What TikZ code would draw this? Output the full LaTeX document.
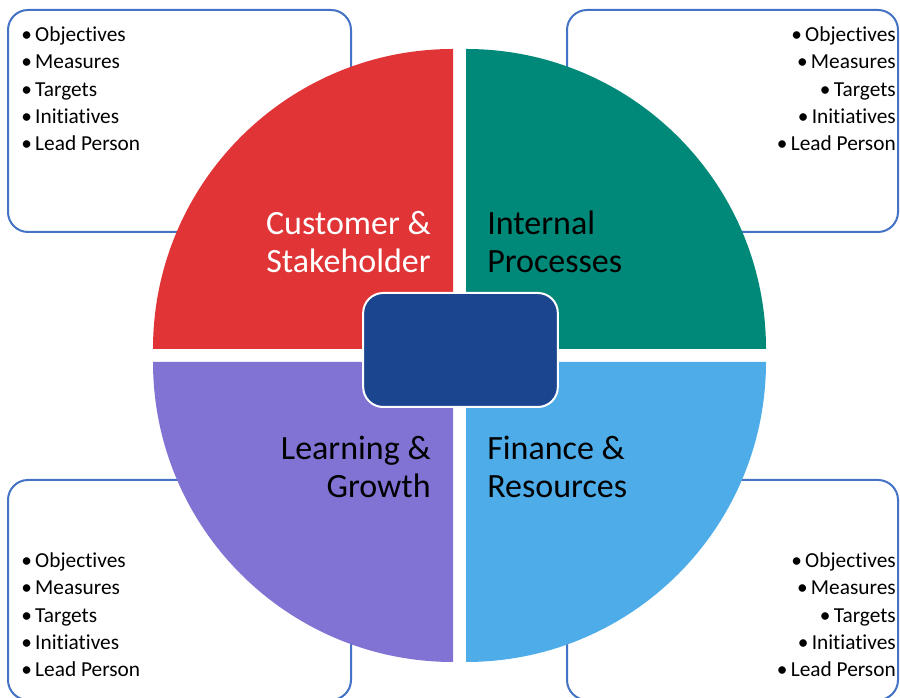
\documentclass[tikz,border=0pt]{standalone}
\usepackage{fontspec}
\setmainfont{Carlito}[Ligatures=NoCommon]
\definecolor{qred}{HTML}{E03436}
\definecolor{qgreen}{HTML}{008878}
\definecolor{qpurple}{HTML}{8173D4}
\definecolor{qblue}{HTML}{4EACE8}
\definecolor{qcenter}{HTML}{1B458F}
\definecolor{qborder}{HTML}{4472C4}
\begin{document}
\begin{tikzpicture}[x=0.75pt,y=0.75pt,
  infobox/.style={draw=qborder,line width=1.5pt,rounded corners=15pt,fill=white},
  item/.style={inner sep=0pt,font=\fontsize{16}{20}\selectfont},
  qlabel/.style={inner sep=0pt,font=\fontsize{25.5}{30}\selectfont}]
\useasboundingbox (0,0) rectangle (900,698);
\clip (0,0) rectangle (900,698);
% outer boxes
\draw[infobox] (8,466) rectangle (351,688);
\draw[infobox] (567,466) rectangle (898,688);
\draw[infobox] (8,-2) rectangle (351,218);
\draw[infobox] (567,-2) rectangle (898,218);
% lists
\foreach \t [count=\i] in {Objectives,Measures,Targets,Initiatives,Lead Person}{
  \node[item,anchor=base west] (tl\i) at (21,{698-41.7-(\i-1)*27.3}) {\textbullet\hspace{2.5pt}\t};
  \node[item,anchor=base east] (tr\i) at (896,{698-41.7-(\i-1)*27.3}) {\textbullet\hspace{2.5pt}\t};
  \node[item,anchor=base west] (bl\i) at (21,{698-567.7-(\i-1)*27.3}) {\textbullet\hspace{2.5pt}\t};
  \node[item,anchor=base east] (br\i) at (896,{698-567.7-(\i-1)*27.3}) {\textbullet\hspace{2.5pt}\t};
}
% quadrants
\fill[qred] (453,349) -- (153,349) arc[start angle=180,end angle=90,radius=300] -- cycle;
\fill[qgreen] (466,349) -- (466,649) arc[start angle=90,end angle=0,radius=300] -- cycle;
\fill[qpurple] (453,336) -- (153,336) arc[start angle=180,end angle=270,radius=300] -- cycle;
\fill[qblue] (466,336) -- (766,336) arc[start angle=0,end angle=-90,radius=300] -- cycle;
% center
\node[draw=white,line width=1.5pt,fill=qcenter,rounded corners=15pt,minimum width=146pt,minimum height=85.5pt,inner sep=0pt] (core) at (460.5,348) {};
% labels
\node[qlabel,text=white,anchor=base east] (cs1) at (431,{698-235}) {Customer \&};
\node[qlabel,text=white,anchor=base east] (cs2) at (431,{698-273}) {Stakeholder};
\node[qlabel,anchor=base west] (ip1) at (487,{698-235}) {Internal};
\node[qlabel,anchor=base west] (ip2) at (487,{698-273}) {Processes};
\node[qlabel,anchor=base east] (lg1) at (431,{698-460}) {Learning \&};
\node[qlabel,anchor=base east] (lg2) at (431,{698-498}) {Growth};
\node[qlabel,anchor=base west] (fr1) at (487,{698-460}) {Finance \&};
\node[qlabel,anchor=base west] (fr2) at (487,{698-498}) {Resources};
\end{tikzpicture}
\end{document}
